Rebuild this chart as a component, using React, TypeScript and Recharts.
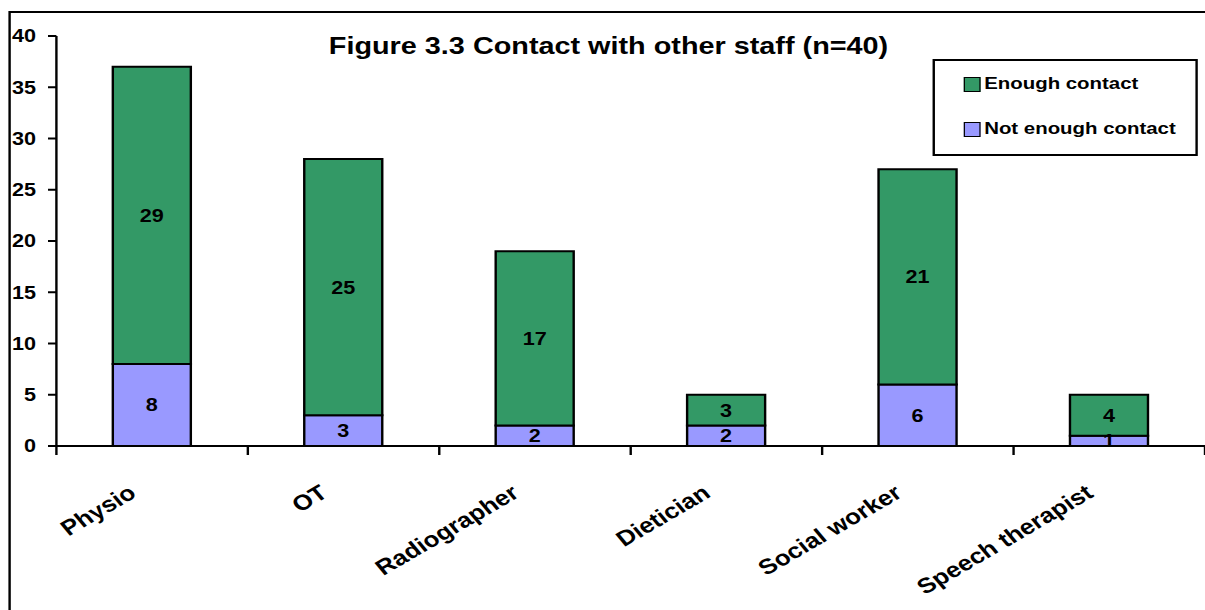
import { BarChart, Bar, XAxis, YAxis, LabelList } from 'recharts';

const categories = ['Physio', 'OT', 'Radiographer', 'Dietician', 'Social worker', 'Speech therapist'];
const notEnoughContact = [8, 3, 2, 2, 6, 1];
const enoughContact = [29, 25, 17, 3, 21, 4];
const yTicks = [0, 5, 10, 15, 20, 25, 30, 35, 40];

const GREEN = '#339966';
const PURPLE = '#9999ff';
const FONT = '"Liberation Sans", Arial, sans-serif';

// drawn narrow, then stretched sideways to the full width
const W = 1004;
const H = 610;
const STRETCH = 1205 / W;
const MARGIN = { top: 36, right: 0, bottom: 0, left: 7 };
const Y_AXIS_W = 40;
const PLOT_W = W - MARGIN.left - Y_AXIS_W;

const data = categories.map((name, i) => ({
  name,
  notEnough: notEnoughContact[i],
  enough: enoughContact[i],
}));

function CategoryTick(props: any) {
  const { x, y, payload, index } = props;
  const band = PLOT_W / categories.length;
  const tx = x - 12;
  const ty = y + 50;
  return (
    <g>
      <line x1={x - band / 2} y1={y} x2={x - band / 2} y2={y + 9} stroke="#000" strokeWidth={2} />
      {index === categories.length - 1 && (
        <line x1={x + band / 2} y1={y} x2={x + band / 2} y2={y + 9} stroke="#000" strokeWidth={2} />
      )}
      <text
        x={tx}
        y={ty}
        transform={`rotate(-35, ${tx}, ${ty})`}
        textAnchor="end"
        fontSize={21.5}
        fontWeight="bold"
        fontFamily={FONT}
        fill="#000"
      >
        {payload.value}
      </text>
    </g>
  );
}

const labelStyle = { fill: '#000', fontSize: 18, fontWeight: 'bold' as const, fontFamily: FONT };

function LegendRow({ color, label, top }: { color: string; label: string; top: number }) {
  return (
    <div style={{ position: 'absolute', left: 24, top, display: 'flex', alignItems: 'center', height: 18 }}>
      <div style={{ width: 12, height: 13, background: color, border: '1.5px solid #000', marginRight: 3 }} />
      <span style={{ fontSize: 17, lineHeight: '18px' }}>{label}</span>
    </div>
  );
}

export default function App() {
  return (
    <div
      style={{
        position: 'absolute',
        left: 0,
        top: 0,
        width: W,
        height: H,
        overflow: 'hidden',
        background: '#fff',
        transform: `scaleX(${STRETCH})`,
        transformOrigin: '0 0',
        fontFamily: FONT,
        fontWeight: 'bold',
        color: '#000',
      }}
    >
      <div
        style={{
          position: 'absolute',
          left: 7,
          top: 10.5,
          width: 2000,
          height: 2000,
          border: '2px solid #000',
        }}
      />
      <BarChart width={W} height={H} data={data} margin={MARGIN} style={{ position: 'absolute', left: 0, top: 0 }}>
        <XAxis
          dataKey="name"
          interval={0}
          height={H - 446}
          tickLine={false}
          tickSize={0}
          tickMargin={0}
          axisLine={{ stroke: '#000', strokeWidth: 2 }}
          tick={<CategoryTick />}
        />
        <YAxis
          width={Y_AXIS_W}
          domain={[0, 40]}
          ticks={yTicks}
          interval={0}
          tickSize={7}
          tickMargin={10}
          axisLine={{ stroke: '#000', strokeWidth: 2 }}
          tickLine={{ stroke: '#000', strokeWidth: 2 }}
          tick={labelStyle}
        />
        <Bar dataKey="notEnough" stackId="a" fill={PURPLE} stroke="#000" strokeWidth={2} barSize={65} isAnimationActive={false}>
          <LabelList dataKey="notEnough" position="center" style={labelStyle} />
        </Bar>
        <Bar dataKey="enough" stackId="a" fill={GREEN} stroke="#000" strokeWidth={2} barSize={65} isAnimationActive={false}>
          <LabelList dataKey="enough" position="center" style={labelStyle} />
        </Bar>
      </BarChart>

      <div
        style={{
          position: 'absolute',
          left: 207,
          width: 600,
          top: 34,
          textAlign: 'center',
          fontSize: 24,
          lineHeight: '24px',
          whiteSpace: 'nowrap',
        }}
      >
        Figure 3.3 Contact with other staff (n=40)
      </div>

      <div
        style={{
          position: 'absolute',
          left: 777,
          top: 59,
          width: 217,
          height: 93,
          border: '2px solid #000',
          background: '#fff',
        }}
      >
        <LegendRow color={GREEN} label="Enough contact" top={14} />
        <LegendRow color={PURPLE} label="Not enough contact" top={59} />
      </div>
    </div>
  );
}
